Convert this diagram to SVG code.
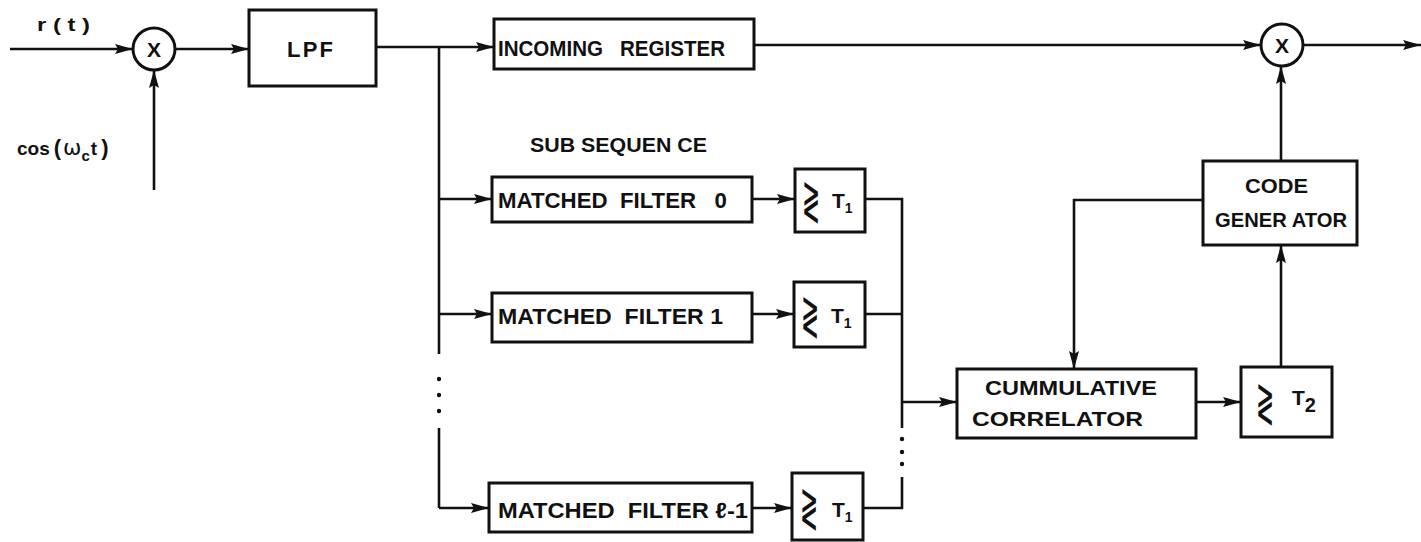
<svg xmlns="http://www.w3.org/2000/svg" width="1421" height="542" viewBox="0 0 1421 542">
<style>
.box{fill:#fff;stroke:#111;stroke-width:3}
.ln{fill:none;stroke:#111;stroke-width:2.6}
.t{font-family:"Liberation Sans",Arial,sans-serif;font-weight:bold;fill:#111;white-space:pre}
.s{font-family:"DejaVu Sans",sans-serif;fill:#111}
.dot{fill:#111}
</style>
<defs>
<marker id="ah" viewBox="0 0 18 12" refX="18" refY="6" markerWidth="18" markerHeight="12" markerUnits="userSpaceOnUse" orient="auto">
<path d="M0,1 L18,6 L0,11 L3,6 Z" fill="#111"/>
</marker>
</defs>
<rect width="1421" height="542" fill="#fff"/>

<g id="connectors">
<path class="ln" d="M10,49 H133" marker-end="url(#ah)"/>
<path class="ln" d="M154,190 V70" marker-end="url(#ah)"/>
<path class="ln" d="M175,49 H249" marker-end="url(#ah)"/>
<path class="ln" d="M376,47 H494" marker-end="url(#ah)"/>
<path class="ln" d="M754,45 H1261" marker-end="url(#ah)"/>
<path class="ln" d="M1303,45 H1421" marker-end="url(#ah)"/>
<path class="ln" d="M439,47 V354"/>
<circle class="dot" cx="439" cy="379" r="2.2"/>
<circle class="dot" cx="439" cy="395" r="2.2"/>
<circle class="dot" cx="439" cy="411" r="2.2"/>
<path class="ln" d="M439,428 V508"/>
<path class="ln" d="M439,199 H492" marker-end="url(#ah)"/>
<path class="ln" d="M439,314 H492" marker-end="url(#ah)"/>
<path class="ln" d="M439,508 H489" marker-end="url(#ah)"/>
<path class="ln" d="M752,199 H795" marker-end="url(#ah)"/>
<path class="ln" d="M752,314 H794" marker-end="url(#ah)"/>
<path class="ln" d="M752,508 H792" marker-end="url(#ah)"/>
<path class="ln" d="M865,199 H902 V428"/>
<path class="ln" d="M865,314 H902"/>
<circle class="dot" cx="902" cy="439" r="2.2"/>
<circle class="dot" cx="902" cy="452" r="2.2"/>
<circle class="dot" cx="902" cy="464" r="2.2"/>
<path class="ln" d="M863,508 H902 V477"/>
<path class="ln" d="M902,402 H957" marker-end="url(#ah)"/>
<path class="ln" d="M1196,402 H1241" marker-end="url(#ah)"/>
<path class="ln" d="M1281,367 V245" marker-end="url(#ah)"/>
<path class="ln" d="M1281,161 V66" marker-end="url(#ah)"/>
<path class="ln" d="M1203,200 H1074 V369" marker-end="url(#ah)"/>
</g>

<g id="labels">
<text class="t" x="37" y="31" font-size="19" textLength="53" lengthAdjust="spacingAndGlyphs">r ( t )</text>
<text class="t" x="17" y="155" font-size="19">cos<tspan font-size="22" dx="4">(</tspan><tspan class="s" font-weight="normal" font-size="22" dx="2">ω</tspan><tspan dy="6" font-size="15">c</tspan><tspan dy="-6" dx="1">t</tspan><tspan font-size="22" dx="4">)</tspan></text>
<text class="t" x="530" y="152" font-size="21" textLength="177" lengthAdjust="spacingAndGlyphs">SUB SEQUEN CE</text>
</g>

<g id="mixer1">
<circle class="box" cx="154" cy="49" r="21"/>
<text class="t" x="154" y="57" font-size="21" text-anchor="middle">X</text>
</g>

<g id="lpf">
<rect class="box" x="249" y="10" width="127" height="76"/>
<text class="t" x="287" y="57" font-size="22" textLength="46" lengthAdjust="spacing">LPF</text>
</g>

<g id="incoming-register">
<rect class="box" x="494" y="19" width="260" height="50"/>
<text class="t" x="498" y="56" font-size="22" textLength="227" lengthAdjust="spacingAndGlyphs">INCOMING   REGISTER</text>
</g>

<g id="mixer2">
<circle class="box" cx="1282" cy="45" r="21"/>
<text class="t" x="1282" y="53" font-size="21" text-anchor="middle">X</text>
</g>

<g id="matched-filter-0">
<rect class="box" x="492" y="177" width="260" height="45"/>
<text class="t" x="498" y="208" font-size="22" textLength="229" lengthAdjust="spacingAndGlyphs">MATCHED  FILTER   0</text>
</g>

<g id="threshold-0">
<rect class="box" x="795" y="169" width="70" height="63"/>
<text class="s" transform="translate(802,219) scale(0.6,1.5)" font-size="36">≷</text>
<text class="t" x="832" y="208" font-size="21">T<tspan dy="5" font-size="14">1</tspan></text>
</g>

<g id="matched-filter-1">
<rect class="box" x="492" y="293" width="260" height="49"/>
<text class="t" x="498" y="324" font-size="22" textLength="225" lengthAdjust="spacingAndGlyphs">MATCHED  FILTER 1</text>
</g>

<g id="threshold-1">
<rect class="box" x="794" y="282" width="71" height="65"/>
<text class="s" transform="translate(801,334) scale(0.6,1.5)" font-size="36">≷</text>
<text class="t" x="831" y="323" font-size="21">T<tspan dy="5" font-size="14">1</tspan></text>
</g>

<g id="matched-filter-l-1">
<rect class="box" x="489" y="483" width="263" height="49"/>
<text class="t" x="498" y="518" font-size="22" textLength="250" lengthAdjust="spacingAndGlyphs">MATCHED  FILTER ℓ-1</text>
</g>

<g id="threshold-l-1">
<rect class="box" x="792" y="473" width="71" height="67"/>
<text class="s" transform="translate(800,526) scale(0.6,1.5)" font-size="36">≷</text>
<text class="t" x="832" y="517" font-size="21">T<tspan dy="5" font-size="14">1</tspan></text>
</g>

<g id="cumulative-correlator">
<rect class="box" x="957" y="369" width="239" height="69"/>
<text class="t" x="985" y="395" font-size="21" textLength="172" lengthAdjust="spacingAndGlyphs">CUMMULATIVE</text>
<text class="t" x="972" y="426" font-size="21" textLength="171" lengthAdjust="spacingAndGlyphs">CORRELATOR</text>
</g>

<g id="threshold-2">
<rect class="box" x="1241" y="367" width="91" height="70"/>
<text class="s" transform="translate(1256,421) scale(0.6,1.5)" font-size="36">≷</text>
<text class="t" x="1292" y="405" font-size="21">T<tspan dy="7" font-size="20">2</tspan></text>
</g>

<g id="code-generator">
<rect class="box" x="1203" y="161" width="154" height="84"/>
<text class="t" x="1245" y="193" font-size="21" textLength="63" lengthAdjust="spacingAndGlyphs">CODE</text>
<text class="t" x="1215" y="227" font-size="21" textLength="132" lengthAdjust="spacingAndGlyphs">GENER ATOR</text>
</g>
</svg>
